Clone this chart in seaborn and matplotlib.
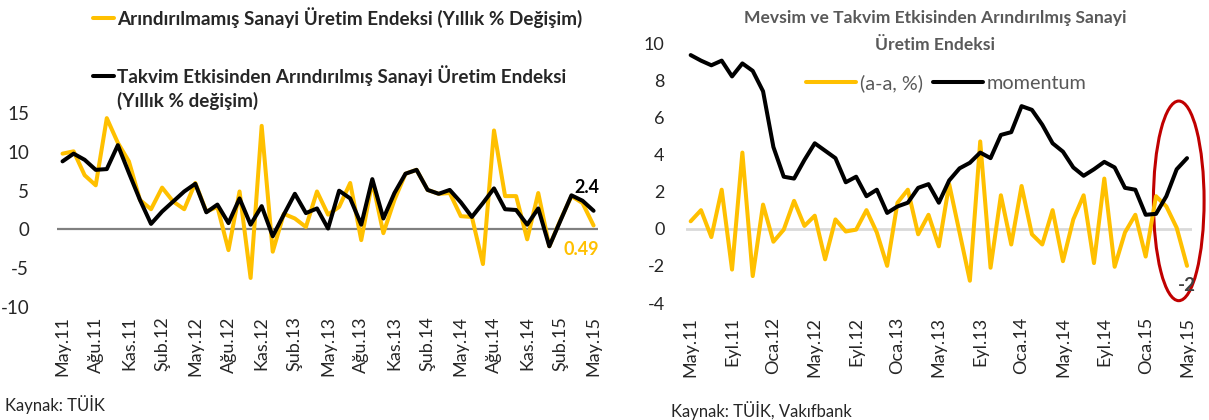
import numpy as np
import pandas as pd
import matplotlib
matplotlib.use("Agg")
import matplotlib.pyplot as plt
from matplotlib.patches import Ellipse
from matplotlib.lines import Line2D
import seaborn as sns

# ay etiketleri (May.11 - May.15)
ay_adlari = ["Oca", "Şub", "Mar", "Nis", "May", "Haz", "Tem", "Ağu", "Eyl", "Eki", "Kas", "Ara"]
aylar = [f"{ay_adlari[(4 + k) % 12]}.{11 + (4 + k) // 12}" for k in range(49)]

# sol grafik: yıllık % değişim
yillik_ham = [9.8, 10.1, 7.0, 5.7, 14.4, 11.2, 8.8, 3.8, 2.6, 5.4,
              3.6, 2.6, 6.0, 2.3, 2.9, -2.7, 4.9, -6.3, 13.4, -2.9,
              2.0, 1.4, 0.3, 4.9, 1.9, 2.9, 6.0, -1.4, 6.2, -0.5,
              3.8, 7.2, 7.7, 5.1, 4.6, 4.7, 1.7, 1.6, -4.5, 12.8,
              4.3, 4.3, -1.3, 4.7, -2.2, 1.2, 4.3, 3.4, 0.49]
yillik_takvim = [8.8, 9.8, 9.0, 7.7, 7.8, 10.9, 7.3, 3.8, 0.7, 2.3,
                 3.6, 4.9, 5.9, 2.2, 3.2, 0.8, 4.0, 0.6, 3.0, -0.9,
                 1.9, 4.6, 2.1, 2.7, 0.1, 5.0, 4.0, 0.6, 6.5, 1.4,
                 4.7, 7.2, 7.7, 5.1, 4.6, 5.1, 3.5, 1.6, 3.4, 5.3,
                 2.6, 2.5, 0.6, 2.7, -2.2, 1.1, 4.4, 3.7, 2.4]

# sağ grafik: mevsim ve takvim etkisinden arındırılmış
aylik_aa = [0.4, 1.0, -0.45, 2.1, -2.2, 4.1, -2.55, 1.3, -0.7, -0.05,
            1.5, 0.15, 0.7, -1.65, 0.5, -0.15, -0.05, 1.0, -0.2, -2.0,
            1.4, 2.1, -0.3, 0.75, -0.95, 2.4, -0.2, -2.8, 4.7, -2.1,
            1.8, -0.85, 2.3, -0.3, -0.85, 1.0, -1.75, 0.5, 1.8, -1.85,
            2.7, -2.05, -0.2, 0.75, -1.5, 1.75, 1.2, 0.05, -2.0]
momentum = [9.35, 9.05, 8.8, 9.05, 8.2, 8.9, 8.5, 7.4, 4.4, 2.8,
            2.7, 3.7, 4.6, 4.2, 3.8, 2.5, 2.8, 1.75, 2.1, 0.85,
            1.2, 1.4, 2.2, 2.4, 1.4, 2.6, 3.25, 3.55, 4.1, 3.8,
            5.05, 5.2, 6.6, 6.4, 5.6, 4.6, 4.15, 3.3, 2.85, 3.2,
            3.6, 3.3, 2.2, 2.1, 0.75, 0.8, 1.75, 3.2, 3.8]

SARI = "#FFC000"
SIYAH = "#000000"
GRI = "#595959"

sns.set_style("white")
plt.rcParams["font.family"] = ["Lato", "DejaVu Sans"]
plt.rcParams["axes.unicode_minus"] = False

W, H = 1209, 420
fig = plt.figure(figsize=(W / 100, H / 100), dpi=100)

df = pd.DataFrame({"ay": np.arange(len(aylar)), "ham": yillik_ham, "takvim": yillik_takvim,
                   "aa": aylik_aa, "mom": momentum})

# ---------- sol ----------
ax1 = fig.add_axes([57 / W, (H - 306.5) / H, 541 / W, 193 / H])
ax1.axhline(0, color="#808080", lw=1.6, zorder=1)
sns.lineplot(data=df, x="ay", y="ham", ax=ax1, color=SARI, lw=2.9, zorder=2)
sns.lineplot(data=df, x="ay", y="takvim", ax=ax1, color=SIYAH, lw=2.9, zorder=3)
ax1.set_xlim(-0.5, 48.4)
ax1.set_ylim(-10, 15)
ax1.set_yticks(range(-10, 16, 5))
ax1.set_xticks(range(0, 49, 3))
ax1.set_xticklabels(aylar[::3], rotation=90)
ax1.tick_params(axis="x", length=0, pad=7, labelsize=13)
ax1.tick_params(axis="y", length=0, pad=20, labelsize=13.5)
ax1.set_xlabel("")
ax1.set_ylabel("")
sns.despine(ax=ax1, left=True, bottom=True)
ax1.annotate("2.4", (48, yillik_takvim[-1]), xytext=(-5, 17), textcoords="offset points",
             ha="center", va="center", fontsize=13, fontweight="bold", color=SIYAH)
ax1.annotate("0.49", (48, yillik_ham[-1]), xytext=(-9, -17), textcoords="offset points",
             ha="center", va="center", fontsize=13, fontweight="bold", color=SARI)

# sol lejant
fig.add_artist(Line2D([93 / W, 114 / W], [1 - 18 / H] * 2, color=SARI, lw=2.9))
fig.add_artist(Line2D([93 / W, 114 / W], [1 - 76 / H] * 2, color=SIYAH, lw=2.9))
fig.text(117 / W, 1 - 18 / H, "Arındırılmamış Sanayi Üretim Endeksi (Yıllık % Değişim)",
         ha="left", va="center", fontsize=13.6, fontweight="bold")
fig.text(117 / W, 1 - 76 / H, "Takvim Etkisinden Arındırılmış Sanayi Üretim Endeksi",
         ha="left", va="center", fontsize=13.6, fontweight="bold")
fig.text(117 / W, 1 - 101 / H, "(Yıllık % değişim)",
         ha="left", va="center", fontsize=13.6, fontweight="bold")
fig.text(5 / W, 1 - 405 / H, "Kaynak: TÜİK", ha="left", va="center", fontsize=12)

# ---------- sağ ----------
ax2 = fig.add_axes([685.5 / W, (H - 303) / H, 506.7 / W, 260 / H])
ax2.axhline(0, color="#D9D9D9", lw=2, zorder=1)
sns.lineplot(data=df, x="ay", y="aa", ax=ax2, color=SARI, lw=2.9, zorder=2, label="(a-a, %)")
sns.lineplot(data=df, x="ay", y="mom", ax=ax2, color=SIYAH, lw=2.9, zorder=3, label="momentum")
ax2.set_xlim(-0.5, 48.5)
ax2.set_ylim(-4, 10)
ax2.set_yticks(range(-4, 11, 2))
ax2.set_xticks(range(0, 49, 4))
ax2.set_xticklabels(aylar[::4], rotation=90)
ax2.tick_params(axis="x", length=0, pad=10, labelsize=13)
ax2.tick_params(axis="y", length=0, pad=15, labelsize=13)
ax2.set_xlabel("")
ax2.set_ylabel("")
sns.despine(ax=ax2, left=True, bottom=True)
leg = ax2.legend(loc="center", bbox_to_anchor=(0.515, (303 - 83) / 260),
                 ncol=2, frameon=False, fontsize=14.3, handlelength=2.5,
                 handletextpad=0.2, columnspacing=0.55)
for t in leg.get_texts():
    t.set_color(GRI)
ax2.annotate("-2", (48, aylik_aa[-1]), xytext=(0, -14), textcoords="offset points",
             ha="center", va="center", fontsize=13.5, fontweight="bold", color="#404040")
ax2.add_patch(Ellipse((47.2, 1.5), width=4.9, height=10.75, fill=False,
                      edgecolor="#C00000", lw=2.2, clip_on=False))
fig.text(935 / W, 1 - 18 / H, "Mevsim ve Takvim Etkisinden Arındırılmış Sanayi",
         ha="center", va="center", fontsize=12.6, fontweight="bold", color=GRI)
fig.text(935 / W, 1 - 45 / H, "Üretim Endeksi",
         ha="center", va="center", fontsize=12.6, fontweight="bold", color=GRI)
fig.text(671 / W, 1 - 410 / H, "Kaynak: TÜİK, Vakıfbank", ha="left", va="center", fontsize=12)

fig.savefig("out.png", dpi=100)
